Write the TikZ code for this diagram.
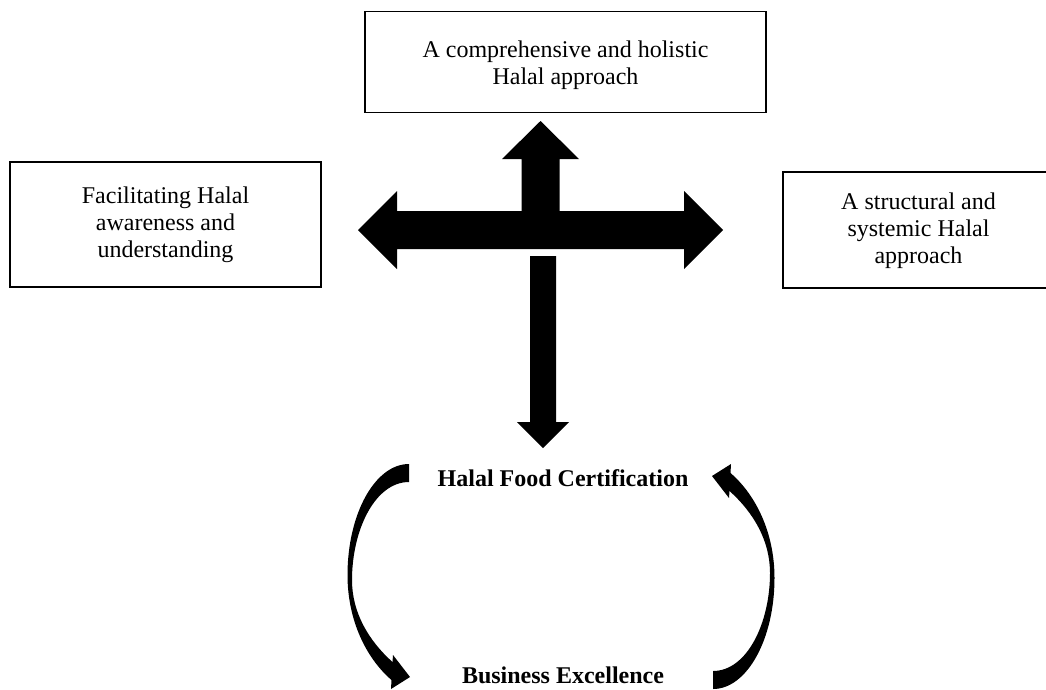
\documentclass[tikz,border=0pt]{standalone}
\usepackage{fontspec}
\setmainfont{Liberation Serif}
\tikzset{
  box/.style={draw,line width=1.5pt,inner sep=0pt},
  txt/.style={align=center,inner sep=0pt,font=\fontsize{24}{27}\selectfont},
  lbl/.style={font=\fontsize{24}{27}\selectfont\bfseries,anchor=base,inner sep=0pt}
}
\begin{document}
\begin{tikzpicture}[x=1pt,y=-1pt]
	\useasboundingbox (0,0) rectangle (1046,689);
	\clip (0,0) rectangle (1046,689);
	%boxes
	\node[box,minimum width=401pt,minimum height=101pt] (holistic) at (565.5,62) {};
	\node[txt] (holistictext) at ([yshift=-3pt]holistic.center) {A comprehensive and holistic\\Halal approach};
	\node[box,minimum width=311pt,minimum height=125pt] (awareness) at (165.5,224.5) {};
	\node[txt] (awarenesstext) at ([yshift=-0.5pt]awareness.center) {Facilitating Halal\\awareness and\\understanding};
	\node[box,minimum width=273pt,minimum height=116pt] (systemic) at (919.5,230) {};
	\node[txt] (systemictext) at ([xshift=-1pt,yshift=-1pt]systemic.center) {A structural and\\systemic Halal\\approach};
	% cross
	\fill (540.5,121) -- (579,159) -- (559.5,159) -- (559.5,211) -- (684,211) -- (684,191) -- (723,230) -- (684,269) -- (684,249)
		-- (397,249) -- (397,269) -- (358,230) -- (397,191) -- (397,211) -- (521.5,211) -- (521.5,159) -- (502,159) -- cycle;
	\fill (530,256) -- (556,256) -- (556,422) -- (569,422) -- (543,448) -- (517,422) -- (530,422) -- cycle;
	%cycle
	\node[lbl] (cert) at (563,486) {Halal Food Certification};
	\node[lbl] (excel) at (563,683) {Business Excellence};
	\foreach \r in {0,180}
		\fill[rotate around={\r:(561,576.5)}] (409,464) .. controls (375,464) and (347.5,514) .. (347.5,575)
			.. controls (347.5,620) and (366,658) .. (391.5,680) -- (391,689) -- (410,677) -- (393,655) -- (392.5,662)
			.. controls (368,640) and (352,612) .. (352,580) .. controls (352,530) and (375,482) .. (409,482) -- cycle;
\end{tikzpicture}
\end{document}
